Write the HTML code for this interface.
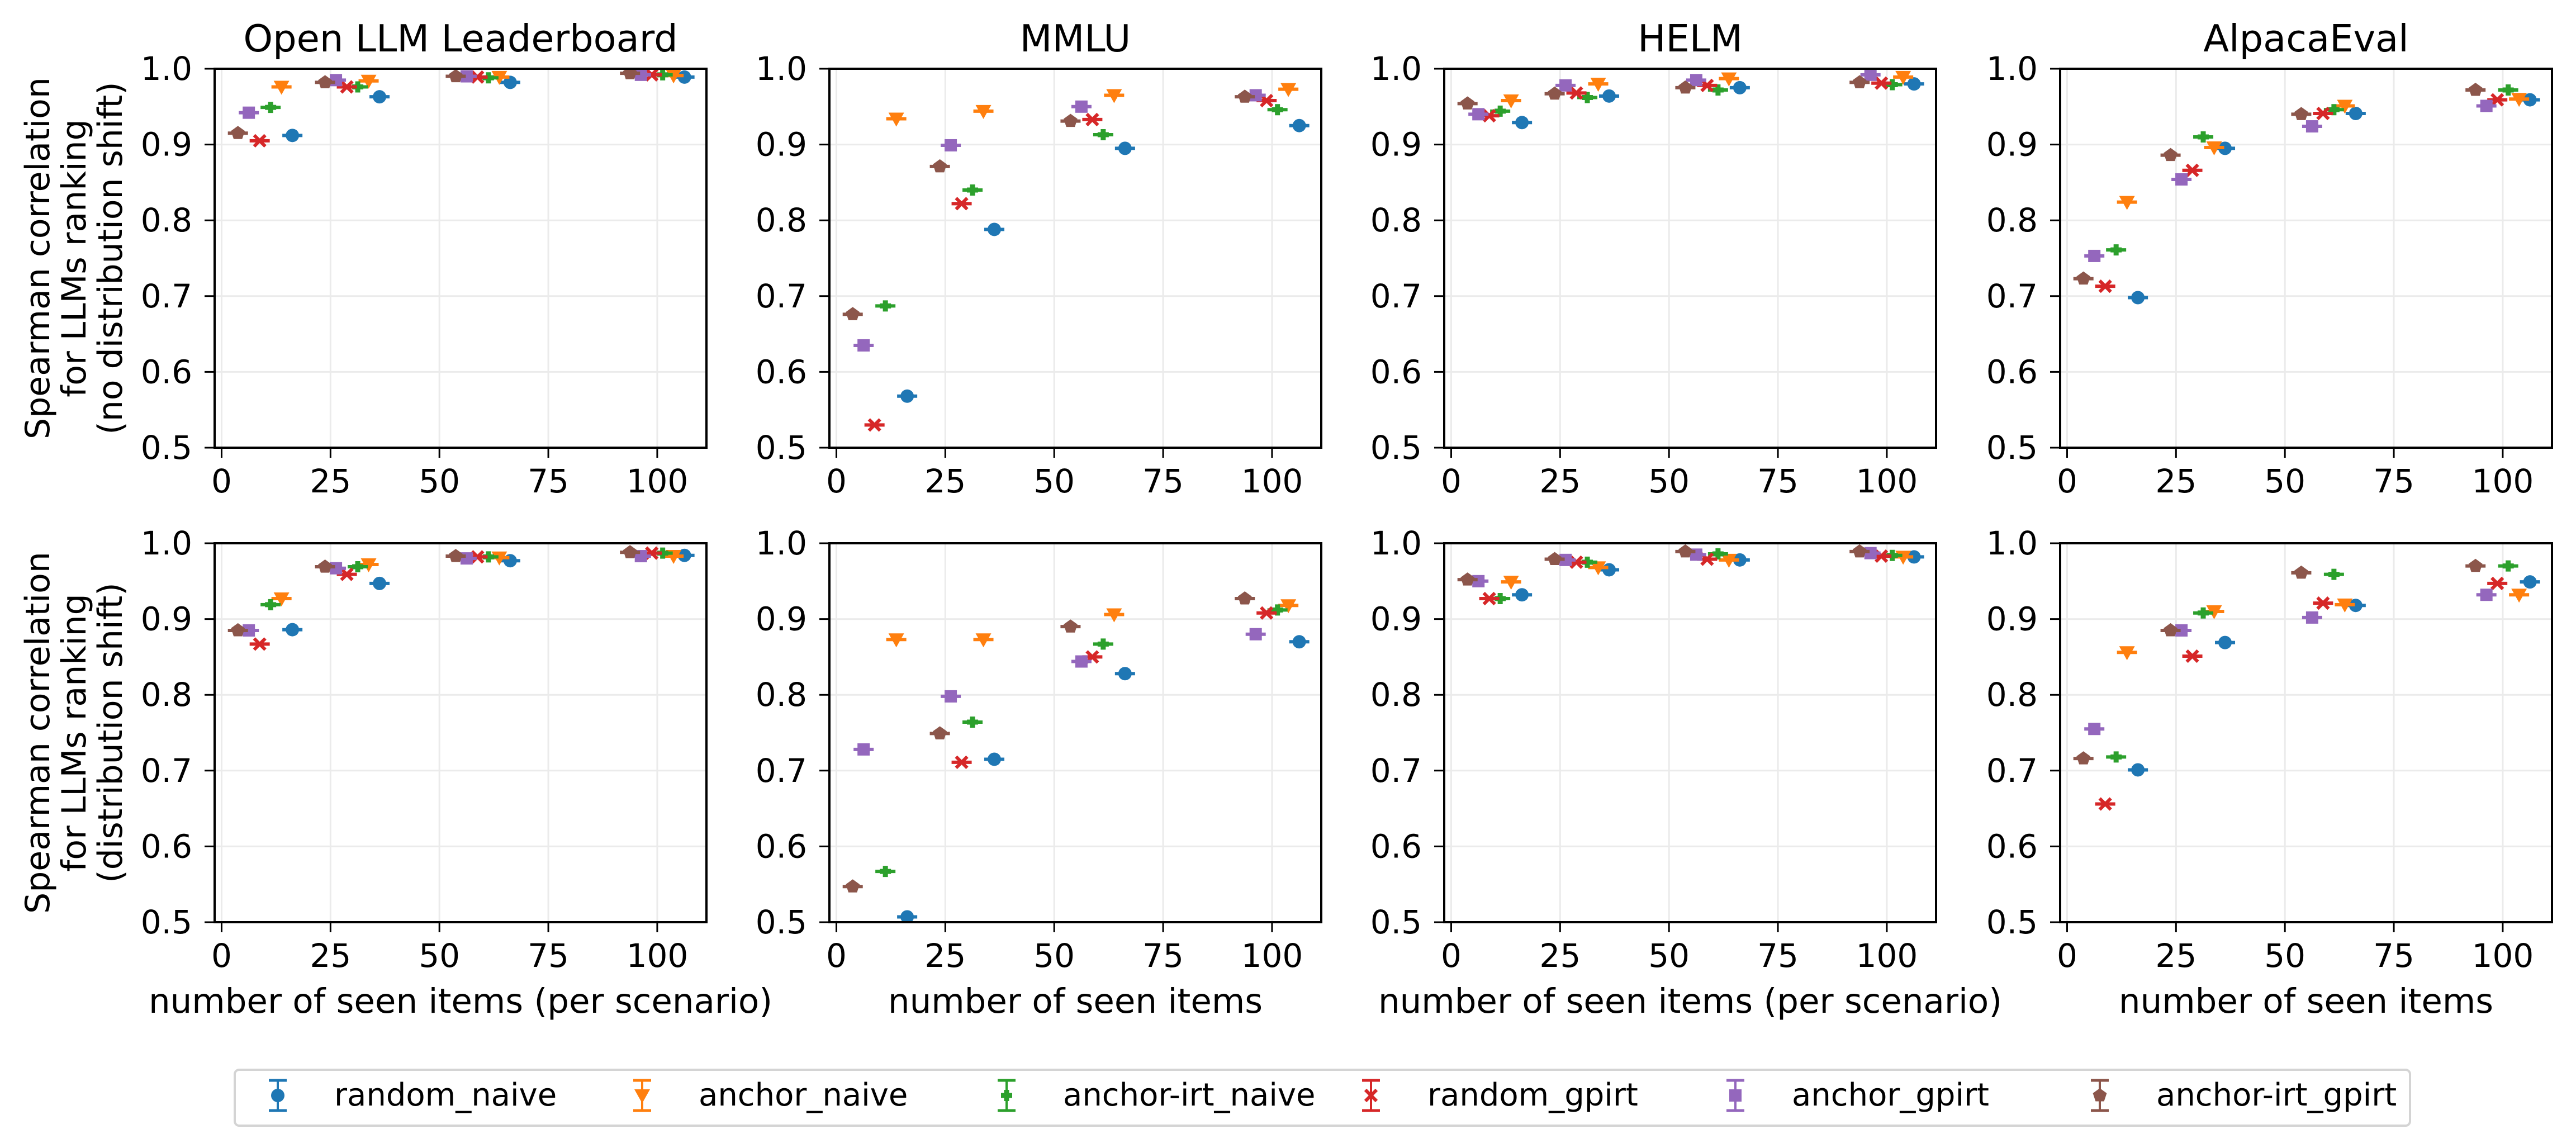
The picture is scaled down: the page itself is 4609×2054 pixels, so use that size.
<!DOCTYPE html>
<html><head><meta charset="utf-8"><style>
html,body{margin:0;padding:0;background:#fff;}
svg{display:block;font-family:"DejaVu Sans","Liberation Sans",sans-serif;}
</style></head><body>
<svg id="chart" width="4609" height="2054" viewBox="0 0 4609 2054" xmlns="http://www.w3.org/2000/svg"></svg>
<script>
const methods = ["random_naive","anchor_naive","anchor-irt_naive","random_gpirt","anchor_gpirt","anchor-irt_gpirt"];
const colors = ["#1f77b4","#ff7f0e","#2ca02c","#d62728","#9467bd","#8c564b"];
const groups = [10,30,60,100];
const offsets = [6.25,3.75,1.25,-1.25,-3.75,-6.25];
const titles = ["Open LLM Leaderboard","MMLU","HELM","AlpacaEval"];
const xlabels = ["number of seen items (per scenario)","number of seen items","number of seen items (per scenario)","number of seen items"];
const xTicks = [0,25,50,75,100];
const yTicks = [0.5,0.6,0.7,0.8,0.9,1.0];
// values[panel][method][group] ; methods order as above
const topOpen = [[0.912,0.963,0.982,0.989],[0.976,0.984,0.989,0.991],[0.949,0.976,0.988,0.992],[0.905,0.976,0.989,0.992],[0.942,0.985,0.990,0.992],[0.915,0.982,0.990,0.994]];
const topMMLU = [[0.568,0.788,0.895,0.925],[0.934,0.944,0.965,0.973],[0.687,0.840,0.913,0.946],[0.530,0.822,0.933,0.958],[0.635,0.899,0.950,0.965],[0.676,0.871,0.931,0.963]];
const topHELM = [[0.929,0.964,0.975,0.980],[0.958,0.980,0.987,0.989],[0.944,0.962,0.972,0.979],[0.938,0.968,0.978,0.981],[0.940,0.978,0.985,0.992],[0.954,0.967,0.975,0.982]];
const topAlpaca = [[0.698,0.895,0.941,0.959],[0.824,0.896,0.951,0.960],[0.761,0.910,0.946,0.972],[0.713,0.866,0.941,0.959],[0.753,0.854,0.924,0.951],[0.723,0.886,0.940,0.972]];
const botOpen = [[0.886,0.947,0.977,0.984],[0.927,0.972,0.981,0.983],[0.919,0.969,0.982,0.987],[0.867,0.959,0.982,0.987],[0.885,0.967,0.980,0.983],[0.885,0.969,0.983,0.988]];
const botMMLU = [[0.507,0.715,0.828,0.870],[0.873,0.873,0.906,0.918],[0.567,0.764,0.867,0.912],[0.45,0.711,0.850,0.908],[0.728,0.798,0.844,0.880],[0.547,0.749,0.890,0.927]];
const botHELM = [[0.932,0.965,0.978,0.982],[0.949,0.968,0.978,0.982],[0.927,0.975,0.986,0.984],[0.927,0.975,0.979,0.983],[0.950,0.978,0.985,0.987],[0.952,0.979,0.989,0.989]];
const botAlpaca = [[0.701,0.869,0.918,0.949],[0.856,0.910,0.919,0.932],[0.718,0.908,0.959,0.970],[0.656,0.851,0.921,0.947],[0.755,0.885,0.902,0.932],[0.716,0.885,0.961,0.970]];
const panelData = [[topOpen,topMMLU,topHELM,topAlpaca],[botOpen,botMMLU,botHELM,botAlpaca]];

const NS="http://www.w3.org/2000/svg";
const svg=document.getElementById('chart');
function mk(tag,attrs,parent){const e=document.createElementNS(NS,tag);for(const k in attrs)e.setAttribute(k,attrs[k]);(parent||svg).appendChild(e);return e;}
const panelX=[384,1484,2584,3686], PW=880;
const rowTop=[123,972], PH=678;
const XMIN=-1.6, XMAX=111.3, YMIN=0.5, YMAX=1.0;

function markerShape(m,cx,cy,col,g){
  let e;
  if(m===0){e=mk('circle',{cx:cx,cy:cy,r:12,fill:col},g);}
  else if(m===1){e=mk('polygon',{points:`${cx-14},${cy-11} ${cx+14},${cy-11} ${cx},${cy+14}`,fill:col},g);}
  else if(m===2){const a=4.5,b=10;e=mk('polygon',{points:`${cx-a},${cy-b} ${cx+a},${cy-b} ${cx+a},${cy-a} ${cx+b},${cy-a} ${cx+b},${cy+a} ${cx+a},${cy+a} ${cx+a},${cy+b} ${cx-a},${cy+b} ${cx-a},${cy+a} ${cx-b},${cy+a} ${cx-b},${cy-a} ${cx-a},${cy-a}`,fill:col},g);}
  else if(m===3){e=mk('path',{d:`M${cx-10},${cy-10}L${cx+10},${cy+10}M${cx+10},${cy-10}L${cx-10},${cy+10}`,stroke:col,'stroke-width':6},g);}
  else if(m===4){e=mk('rect',{x:cx-11,y:cy-11,width:22,height:22,fill:col},g);}
  else {let p=[];for(let i=0;i<5;i++){const a=-Math.PI/2+i*2*Math.PI/5;p.push((cx+13*Math.cos(a)).toFixed(1)+','+(cy+13*Math.sin(a)).toFixed(1));}e=mk('polygon',{points:p.join(' '),fill:col},g);}
  return e;
}

for(let r=0;r<2;r++){for(let p=0;p<4;p++){
  const L=panelX[p],T=rowTop[r];
  const xs=v=>L+(v-XMIN)/(XMAX-XMIN)*PW;
  const ys=v=>T+(YMAX-v)/(YMAX-YMIN)*PH;
  const g=mk('g',{});
  
  
  const clipId='clip'+r+p;
  const cp=mk('clipPath',{id:clipId},g);mk('rect',{x:L,y:T,width:PW,height:PH},cp);
  xTicks.forEach(t=>{const l=mk('line',{x1:xs(t),x2:xs(t),y1:T,y2:T+PH,stroke:'#ebebeb','stroke-width':3},g);});
  yTicks.forEach(t=>{const l=mk('line',{x1:L,x2:L+PW,y1:ys(t),y2:ys(t),stroke:'#ebebeb','stroke-width':3},g);});
  const dg=mk('g',{'clip-path':`url(#${clipId})`},g);
  const data=panelData[r][p];
  for(let m=0;m<6;m++){for(let k=0;k<4;k++){
    const cx=xs(groups[k]+offsets[m]), cy=ys(data[m][k]);
    const pg=mk('g',{},dg);
    
    
    mk('line',{x1:cx-18,x2:cx+18,y1:cy,y2:cy,stroke:colors[m],'stroke-width':6},pg);
    markerShape(m,cx,cy,colors[m],pg);
  }}
  const fr=mk('rect',{x:L,y:T,width:PW,height:PH,fill:'none',stroke:'#000','stroke-width':4},g);
  
  xTicks.forEach(t=>{mk('line',{x1:xs(t),x2:xs(t),y1:T+PH,y2:T+PH+18,stroke:'#000','stroke-width':3},g);
    const tx=mk('text',{x:xs(t),y:T+PH+80,'font-size':58,'text-anchor':'middle',fill:'#000'},g);tx.textContent=t;
    });
  yTicks.forEach(t=>{mk('line',{x1:L-18,x2:L,y1:ys(t),y2:ys(t),stroke:'#000','stroke-width':3},g);
    const tx=mk('text',{x:L-40,y:ys(t)+20,'font-size':58,'text-anchor':'end',fill:'#000'},g);tx.textContent=t.toFixed(1);
    });
  if(r===0){const tt=mk('text',{x:L+PW/2,y:92,'font-size':67,'text-anchor':'middle',fill:'#000'},g);tt.textContent=titles[p];
    }
  else{const xl=mk('text',{x:L+PW/2,y:1812,'font-size':61,'text-anchor':'middle',fill:'#000'},g);xl.textContent=xlabels[p];
    }
}}
const ylab=[["Spearman correlation","for LLMs ranking","(no distribution shift)"],["Spearman correlation","for LLMs ranking","(distribution shift)"]];
for(let r=0;r<2;r++){const cy=rowTop[r]+PH/2;
  const t=mk('text',{transform:`translate(0,${cy}) rotate(-90)`,'font-size':60,'text-anchor':'middle',fill:'#000'});
  
  ylab[r].forEach((s,i)=>{const ts=mk('tspan',{x:0,y:[88,153,218][i]},t);ts.textContent=s;});
}
const lg=mk('g',{});

mk('rect',{x:420,y:1914,width:3892,height:100,rx:8,fill:'#fff',stroke:'#d4d4d4','stroke-width':4},lg);
for(let m=0;m<6;m++){
  const mx=497+m*652, my=1960;
  const eg=mk('g',{},lg);
  
  
  mk('line',{x1:mx,x2:mx,y1:my-27,y2:my+27,stroke:colors[m],'stroke-width':4},eg);
  mk('line',{x1:mx-16,x2:mx+16,y1:my-27,y2:my-27,stroke:colors[m],'stroke-width':5},eg);
  mk('line',{x1:mx-16,x2:mx+16,y1:my+27,y2:my+27,stroke:colors[m],'stroke-width':5},eg);
  markerShape(m,mx,my,colors[m],eg);
  const tx=mk('text',{x:mx+101,y:1978,'font-size':56,fill:'#000'},eg);tx.textContent=methods[m];
}
</script>
</body></html>
